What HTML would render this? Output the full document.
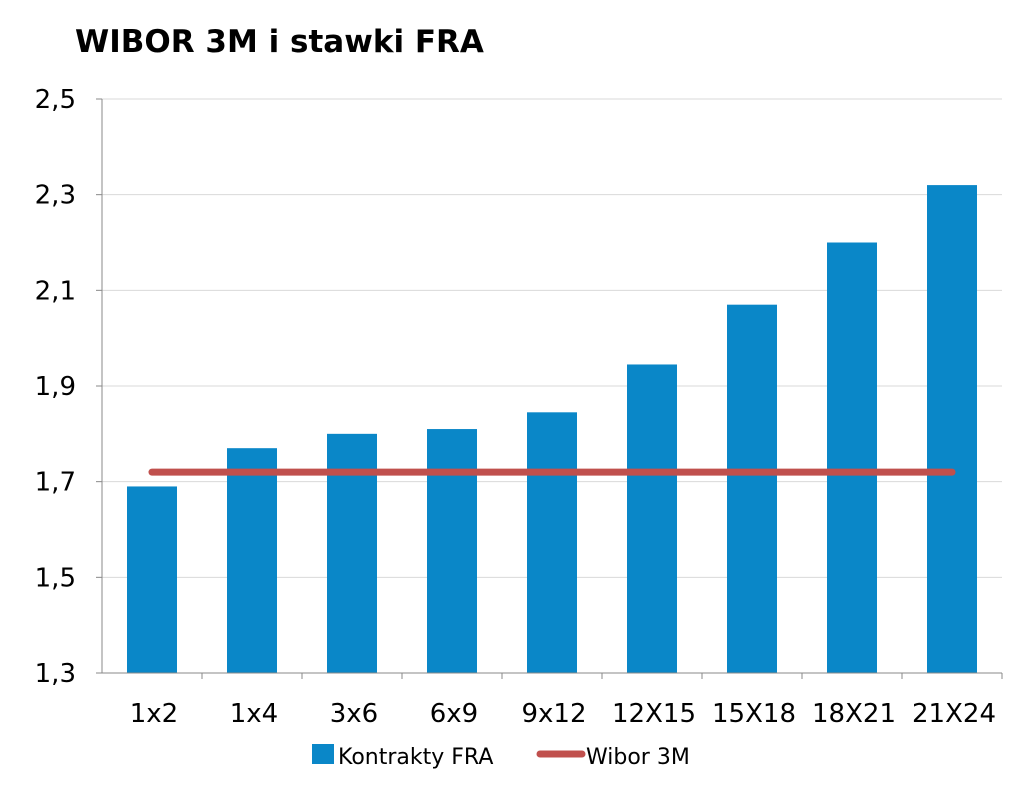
<!DOCTYPE html>
<html><head><meta charset="utf-8"><style>
body{margin:0;background:#fff;}
svg text{font-family:"DejaVu Sans","Liberation Sans",sans-serif;fill:#000;}
</style></head><body>
<svg width="1023" height="782" xmlns="http://www.w3.org/2000/svg">
<text x="75" y="52" font-size="31" font-weight="bold">WIBOR 3M i stawki FRA</text>
<g id="grid"></g><g id="bars"></g><g id="axes"></g><g id="line"></g>
<g>
<rect x="312" y="744" width="22" height="20" fill="#0a87c8"/>
<text x="338" y="764" font-size="22">Kontrakty FRA</text>
<line x1="540" y1="754" x2="582" y2="754" stroke="#c0504d" stroke-width="7" stroke-linecap="round"/>
<text x="586" y="764" font-size="22">Wibor 3M</text>
</g>
</svg>
<script>
const categories=["1x2","1x4","3x6","6x9","9x12","12X15","15X18","18X21","21X24"];
const fraValues=[1.69,1.77,1.80,1.81,1.845,1.945,2.07,2.20,2.32];
const wiborValue=1.72;
const yTicks=[1.3,1.5,1.7,1.9,2.1,2.3,2.5];
const NS="http://www.w3.org/2000/svg";
const X0=102,X1=1002,Y0=673,Y1=99,MIN=1.3,MAX=2.5;
const y=v=>Y0-(v-MIN)/(MAX-MIN)*(Y0-Y1);
const band=(X1-X0)/categories.length;
const xc=i=>X0+band*(i+0.5);
function mk(tag,attrs,parent){const e=document.createElementNS(NS,tag);for(const k in attrs)e.setAttribute(k,attrs[k]);document.getElementById(parent).appendChild(e);return e;}
yTicks.forEach(t=>{
 const g=mk("line",{x1:X0,x2:X1,y1:y(t),y2:y(t),stroke:"#d9d9d9","stroke-width":1},"grid");
 
 
 const tk=mk("line",{x1:X0-6,x2:X0,y1:y(t),y2:y(t),stroke:"#888"},"axes");
 
 
 const tx=mk("text",{x:X0-26,y:y(t)+9,"font-size":26,"text-anchor":"end"},"axes");
 tx.textContent=t.toFixed(1).replace(".",",");
 
 
});
const ya=mk("line",{x1:X0,x2:X0,y1:Y1,y2:Y0,stroke:"#888"},"axes");


const xa=mk("line",{x1:X0,x2:X1,y1:Y0,y2:Y0,stroke:"#888"},"axes");


categories.forEach((c,i)=>{
 const b=mk("rect",{x:xc(i)-25,width:50,y:y(fraValues[i]),height:Y0-y(fraValues[i]),fill:"#0a87c8"},"bars");
 
 
 const tk=mk("line",{x1:X0+band*(i+1),x2:X0+band*(i+1),y1:Y0,y2:Y0+6,stroke:"#888"},"axes");
 
 
 const tx=mk("text",{x:xc(i)+2,y:722,"font-size":26,"text-anchor":"middle"},"axes");
 tx.textContent=c;
 
 
});
const l=mk("line",{x1:xc(0),x2:xc(categories.length-1),y1:y(wiborValue),y2:y(wiborValue),stroke:"#c0504d","stroke-width":7,"stroke-linecap":"round"},"line");


</script>
</body></html>
